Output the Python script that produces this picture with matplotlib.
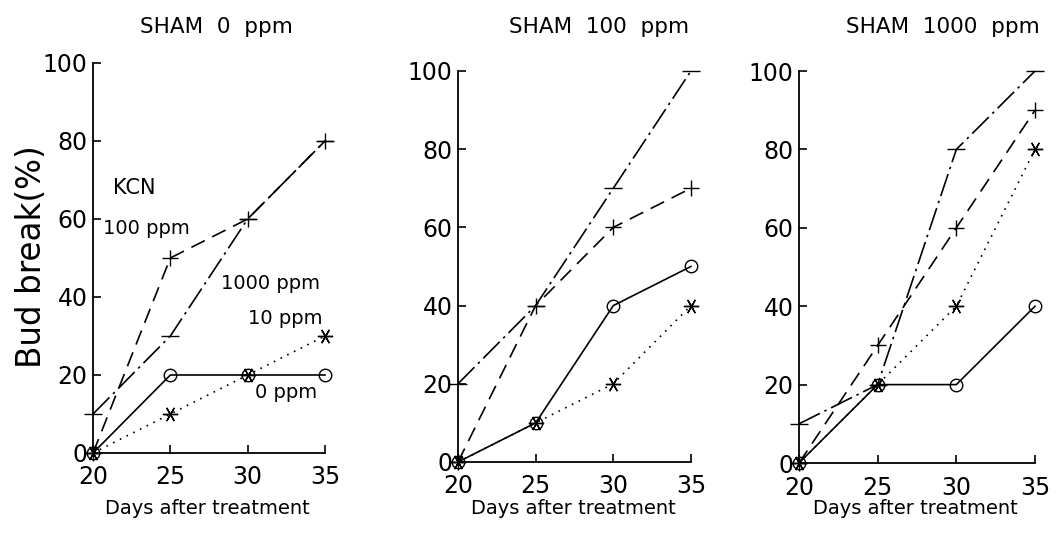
import matplotlib

matplotlib.use("Agg")
import matplotlib.pyplot as plt

# days after treatment
days = [20, 25, 30, 35]

# panel titles (SHAM treatment)
panel_titles = ["SHAM  0  ppm", "SHAM  100  ppm", "SHAM  1000  ppm"]

# bud break (%) per KCN dose, one list per panel
kcn_0 = [[0, 20, 20, 20], [0, 10, 40, 50], [0, 20, 20, 40]]
kcn_10 = [[0, 10, 20, 30], [0, 10, 20, 40], [0, 20, 40, 80]]
kcn_100 = [[0, 50, 60, 80], [0, 40, 60, 70], [0, 30, 60, 90]]
kcn_1000 = [[10, 30, 60, 80], [20, 40, 70, 100], [10, 20, 80, 100]]

y_ticks = [0, 20, 40, 60, 80, 100]
x_ticks = [20, 25, 30, 35]

# series labels written in the first panel
dose_labels = ["KCN", "100 ppm", "1000 ppm", "10 ppm", "0 ppm"]
dose_label_xy = [(21.3, 68), (20.65, 57.5), (28.3, 43.5), (30.0, 34.5), (30.5, 15.5)]

FONT = "DejaVu Sans"
plt.rcParams["font.family"] = FONT

fig = plt.figure(figsize=(10.57, 5.38), dpi=100)

# axes rectangles in figure fraction (left, bottom, width, height)
rects = [
    (0.0880, 0.1580, 0.2195, 0.7250),
    (0.4333, 0.1413, 0.2204, 0.7268),
    (0.7559, 0.1394, 0.2233, 0.7286),
]
title_pos = [(0.534, 1.092), (0.605, 1.113), (0.61, 1.113)]
xlabel_x = [207, 573, 915]

series_style = [
    # data, linestyle, marker, markersize, dashes
    (kcn_1000, "-.", "_", 13, (14, 3, 1.5, 3)),
    (kcn_100, "--", "+", 12, (9, 5)),
    (kcn_10, ":", (6, 2, 90), 11, (1, 3.5)),
    (kcn_0, "-", "o", 9, None),
]

for i, rect in enumerate(rects):
    ax = fig.add_axes(rect)
    for data, ls, marker, ms, dashes in series_style:
        (line,) = ax.plot(
            days,
            data[i],
            linestyle=ls,
            color="black",
            linewidth=1.2,
            marker=marker,
            markersize=ms,
            markerfacecolor="none",
            markeredgecolor="black",
            markeredgewidth=1.0,
            clip_on=False,
            zorder=3,
        )
        if dashes is not None:
            line.set_dashes(dashes)

    ax.set_xlim(20, 35)
    ax.set_ylim(0, 100)
    ax.set_xticks(x_ticks)
    ax.set_yticks(y_ticks)
    ax.tick_params(direction="in", length=6, width=1.2, labelsize=17, pad=4)
    ax.tick_params(axis="x", pad=9)
    for side in ["top", "right"]:
        ax.spines[side].set_visible(False)
    for side in ["left", "bottom"]:
        ax.spines[side].set_linewidth(1.3)

    fig.text(xlabel_x[i] / 1057, 1 - 508 / 538, "Days after treatment",
             ha="center", va="center", fontsize=14)
    tx, ty = title_pos[i]
    ax.text(tx, ty, panel_titles[i], transform=ax.transAxes,
            ha="center", va="center", fontsize=15.5)

    if i == 0:
        for label, (lx, ly) in zip(dose_labels, dose_label_xy):
            size = 15 if label == "KCN" else 14
            ax.text(lx, ly, label, ha="left", va="center", fontsize=size)

fig.text(32 / 1057, 1 - 257 / 538, "Bud break(%)", rotation=90,
         ha="center", va="center", fontsize=23.5)

fig.savefig("out.png", dpi=100)
